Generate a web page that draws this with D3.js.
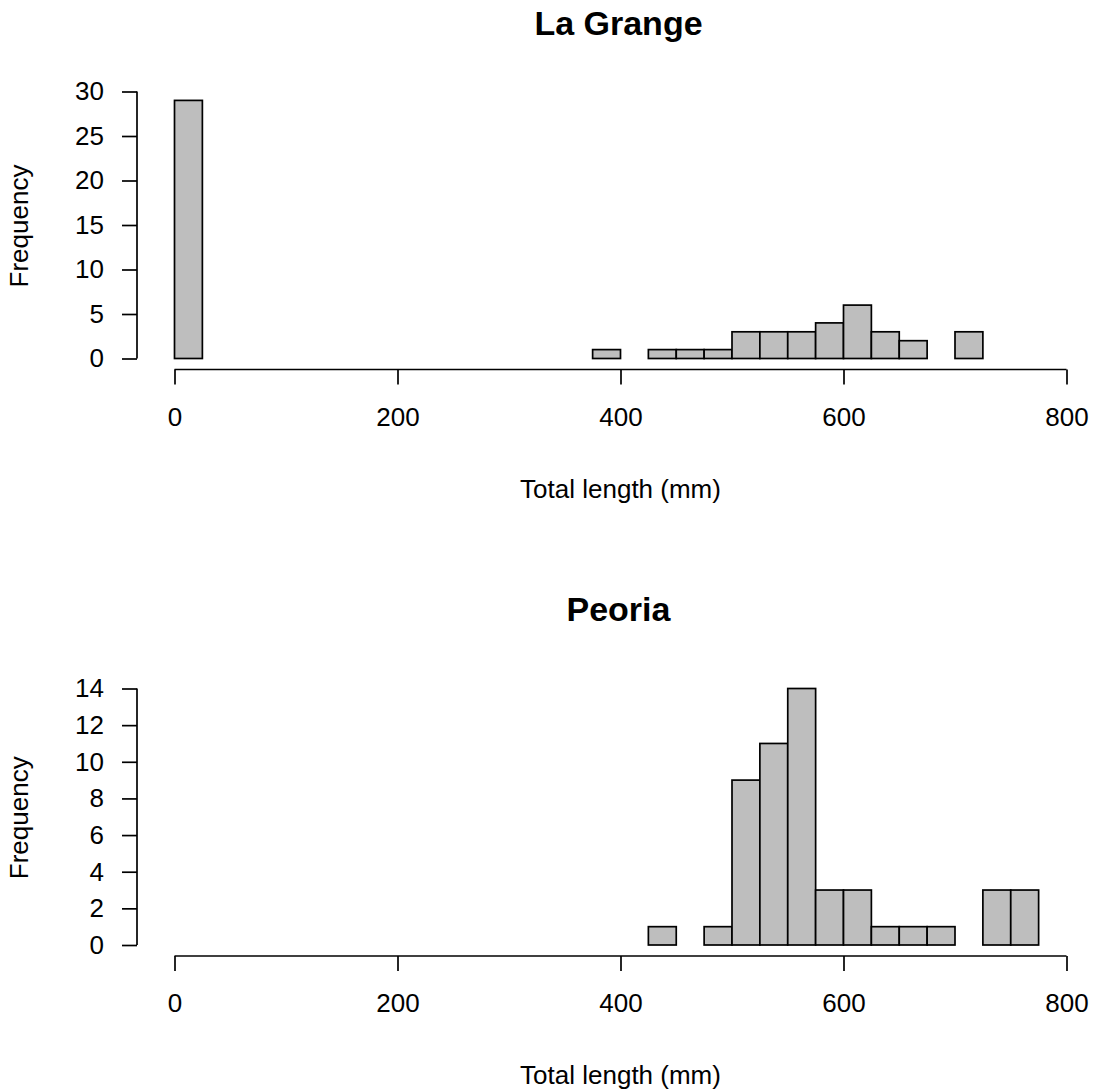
<!DOCTYPE html>
<html>
<head>
<meta charset="utf-8">
<script src="https://cdn.jsdelivr.net/npm/d3@7"></script>
<style>
  body { margin: 0; background: #fff; }
  text { font-family: "Liberation Sans", Arial, sans-serif; fill: #000; }
</style>
</head>
<body>
<div id="chart"></div>
<script>
// histogram bins, 25 mm wide, 0 to 800
var binStarts = d3.range(0, 800, 25);

// counts per bin (only non-zero bins listed)
var laGrangeBins = [0, 375, 425, 450, 475, 500, 525, 550, 575, 600, 625, 650, 700];
var laGrangeCounts = [29, 1, 1, 1, 1, 3, 3, 3, 4, 6, 3, 2, 3];

var peoriaBins = [425, 475, 500, 525, 550, 575, 600, 625, 650, 675, 725, 750];
var peoriaCounts = [1, 1, 9, 11, 14, 3, 3, 1, 1, 1, 3, 3];

var xTicks = [0, 200, 400, 600, 800];
var laGrangeYTicks = [0, 5, 10, 15, 20, 25, 30];
var peoriaYTicks = [0, 2, 4, 6, 8, 10, 12, 14];

var svg = d3.select("#chart").append("svg")
  .attr("width", 1093)
  .attr("height", 1091);

var x = d3.scaleLinear().domain([0, 800]).range([174.5, 1066.5]);

function drawPanel(title, titleY, bins, counts, yTicks, yMax, yZero, yTop, axisY) {
  var y = d3.scaleLinear().domain([0, yMax]).range([yZero, yTop]);
  var g = svg.append("g");

  var full = binStarts.map(function(b) {
    var i = bins.indexOf(b);
    return { x0: b, x1: b + 25, n: i >= 0 ? counts[i] : 0 };
  });

  g.selectAll("rect.bar")
    .data(full)
    .enter().append("rect")
    .attr("class", "bar")
    .attr("x", function(d) { return x(d.x0); })
    .attr("y", function(d) { return y(d.n); })
    .attr("width", function(d) { return x(d.x1) - x(d.x0); })
    .attr("height", function(d) { return y(0) - y(d.n); })
    .style("fill", "#bebebe")
    .style("stroke", "#000")
    .style("stroke-width", 1.7);

  // y axis
  var ya = g.append("g")
    .attr("transform", "translate(137,0)")
    .call(d3.axisLeft(y).tickValues(yTicks).tickSize(15).tickPadding(18).tickSizeOuter(0));
  ya.select(".domain").attr("d", "M0," + y(yTicks[0]) + "V" + y(yTicks[yTicks.length - 1]));
  ya.selectAll("path, line").style("stroke", "#000").style("stroke-width", 1.7);
  ya.selectAll("text").style("font-size", "26px").style("font-family", "Liberation Sans, Arial, sans-serif");

  // x axis
  var xa = g.append("g")
    .attr("transform", "translate(0," + axisY + ")")
    .call(d3.axisBottom(x).tickValues(xTicks).tickSize(15).tickPadding(23).tickSizeOuter(0));
  xa.select(".domain").attr("d", "M" + x(0) + ",0H" + x(800));
  xa.selectAll("path, line").style("stroke", "#000").style("stroke-width", 1.7);
  xa.selectAll("text").style("font-size", "26px").style("font-family", "Liberation Sans, Arial, sans-serif");

  g.append("text")
    .attr("x", x(400))
    .attr("y", axisY + 128)
    .attr("text-anchor", "middle")
    .style("font-size", "26px")
    .text("Total length (mm)");

  g.append("text")
    .attr("transform", "translate(28," + ((yZero + yTop) / 2 + 1) + ") rotate(-90)")
    .attr("text-anchor", "middle")
    .style("font-size", "26px")
    .text("Frequency");

  g.append("text")
    .attr("x", x(400) - 2)
    .attr("y", titleY)
    .attr("text-anchor", "middle")
    .style("font-size", "34px")
    .style("font-weight", "bold")
    .text(title);
}

drawPanel("La Grange", 35, laGrangeBins, laGrangeCounts, laGrangeYTicks, 30, 358.5, 91.5, 369.5);
drawPanel("Peoria", 621, peoriaBins, peoriaCounts, peoriaYTicks, 14, 945, 688.5, 956);
</script>
</body>
</html>
